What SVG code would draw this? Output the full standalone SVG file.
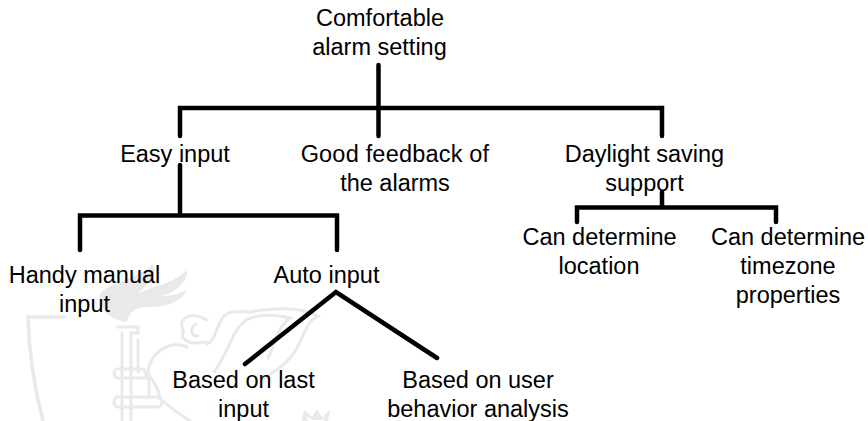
<svg xmlns="http://www.w3.org/2000/svg" width="868" height="421" viewBox="0 0 868 421">
<style>
text{font-family:"Liberation Sans",Arial,sans-serif;font-size:23.5px;fill:#000;text-anchor:middle}
.c{fill:none;stroke:#000;stroke-width:4.500;stroke-linecap:round;stroke-linejoin:miter}
.w{fill:none;stroke:#e9e9e9;stroke-width:3;stroke-linecap:round}
.wf{fill:#e9e9e9;stroke:none}
</style>
<rect width="868" height="421" fill="#fff"/>
<g id="watermark">
<path class="w" style="stroke-width:3.500" d="M64 317H28C29 355 35 390 43 421"/>
<path class="wf" d="M127 322C108 320 100 308 100 294C108 284 122 282 134 276C142 272 150 268 152 264C160 272 148 284 138 294C150 286 170 286 187 270C188 282 176 292 162 296C172 296 180 294 187 289C182 304 160 308 145 307C134 308 128 314 127 322Z"/>
<path class="w" d="M117 327H138V333H131V421M122 333V421M138 340V372M117 369H143C147 372 147 377 143 378H117C113 376 113 371 117 369ZM143 378H149V398M117 397H158C163 399 163 406 158 407H117C113 405 113 399 117 397Z"/>
<path class="w" d="M207 320C196 314 186 314 182 322C180 328 186 330 182 336C186 344 196 344 206 342M196 324C190 328 190 336 198 336M187 347C170 340 150 352 148 372C150 380 158 384 160 398C172 410 180 414 190 421"/>
<path class="w" d="M207 344C216 340 216 326 224 316C230 310 240 312 250 312C270 308 300 306 318 316C306 322 304 336 296 350C286 366 272 372 262 380M214 372C230 350 232 330 246 320C258 314 276 314 290 318C278 326 276 342 268 358"/>
<path class="wf" d="M302 421L304 410L312 417L317 409L322 417L330 410L328 421H324L325 416L322 420H312L307 416L308 421Z"/>
</g>
<g id="connectors">
<path class="c" d="M378.500 65V108M180 136V108H662V136M378.500 108V136"/>
<path class="c" d="M180 165V215.500M80 250V215.500H337V250"/>
<path class="c" d="M245 364L336 292L437 358"/>
<path class="c" d="M662 192V207.500M577 222V207.500H776V222"/>
</g>
<g id="n-root"><text x="380" y="26">Comfortable</text><text x="379.500" y="55">alarm setting</text></g>
<g id="n-easy"><text x="175" y="162">Easy input</text></g>
<g id="n-feedback"><text x="395" y="162" style="letter-spacing:.2px">Good feedback of</text><text x="395" y="191">the alarms</text></g>
<g id="n-daylight"><text x="644.500" y="162">Daylight saving</text><text x="644.500" y="191">support</text></g>
<g id="n-location"><text x="599.500" y="245">Can determine</text><text x="599" y="274">location</text></g>
<g id="n-timezone"><text x="788" y="245">Can determine</text><text x="788" y="274">timezone</text><text x="788" y="303">properties</text></g>
<g id="n-manual"><text x="84.500" y="283">Handy manual</text><text x="84.500" y="312">input</text></g>
<g id="n-auto"><text x="326.500" y="283">Auto input</text></g>
<g id="n-last"><text x="243.500" y="388">Based on last</text><text x="243.500" y="417">input</text></g>
<g id="n-behavior"><text x="478" y="388">Based on user</text><text x="478" y="417">behavior analysis</text></g>
</svg>
